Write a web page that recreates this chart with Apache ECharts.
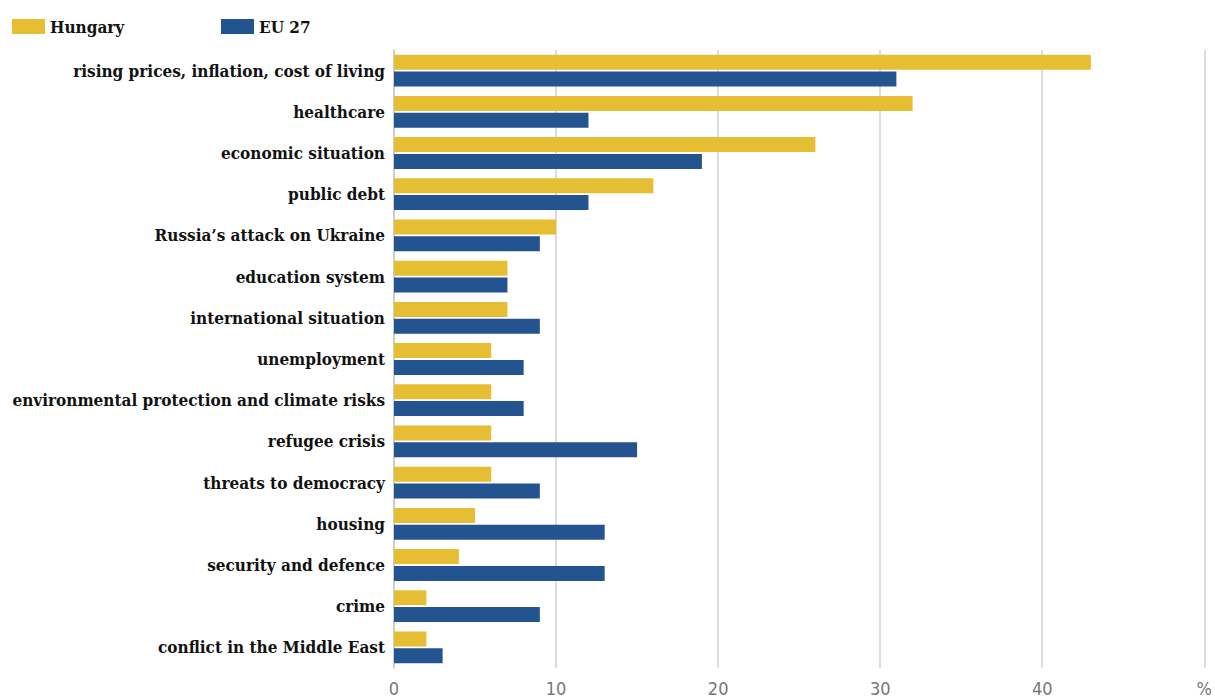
<!DOCTYPE html>
<html>
<head>
<meta charset="utf-8">
<script src="https://cdn.jsdelivr.net/npm/echarts@6/dist/echarts.min.js"></script>
<style>
  html, body { margin: 0; padding: 0; background: #fff; }
  #chart { width: 1215px; height: 697px; }
</style>
</head>
<body>
<div id="chart"></div>
<script>
var categories = [
  'rising prices, inflation, cost of living',
  'healthcare',
  'economic situation',
  'public debt',
  'Russia\u2019s attack on Ukraine',
  'education system',
  'international situation',
  'unemployment',
  'environmental protection and climate risks',
  'refugee crisis',
  'threats to democracy',
  'housing',
  'security and defence',
  'crime',
  'conflict in the Middle East'
];
var hungary = [43, 32, 26, 16, 10, 7, 7, 6, 6, 6, 6, 5, 4, 2, 2];
var eu27 = [31, 12, 19, 12, 9, 7, 9, 8, 8, 15, 9, 13, 13, 9, 3];

var yellow = '#E6BE33';
var blue = '#24548F';
var serif = 'DejaVu Serif Condensed, DejaVu Serif, serif';

var legendText = { fontFamily: serif, fontWeight: 'bold', fontSize: 17, color: '#111' };

var chart = echarts.init(document.getElementById('chart'), null, { renderer: 'svg' });
chart.setOption({
  animation: false,
  legend: [
    {
      left: 7, top: 13, itemWidth: 33, itemHeight: 15, icon: 'rect',
      textStyle: legendText, data: ['Hungary']
    },
    {
      left: 216, top: 13, itemWidth: 33, itemHeight: 15, icon: 'rect',
      textStyle: legendText, data: ['EU 27']
    }
  ],
  grid: { left: 394, right: 9, top: 50, bottom: 25, containLabel: false },
  xAxis: {
    type: 'value',
    min: 0,
    max: 50,
    interval: 10,
    axisLine: { show: false },
    axisTick: { show: false },
    axisLabel: {
      color: '#777',
      fontFamily: 'Liberation Sans Narrow, DejaVu Sans Condensed, sans-serif',
      fontSize: 18,
      margin: 11,
      formatter: function(v) { return v === 50 ? '%' : v; }
    },
    splitLine: { lineStyle: { color: '#d0d0d0', width: 1.5 } }
  },
  yAxis: {
    type: 'category',
    inverse: true,
    data: categories,
    axisLine: { show: true, lineStyle: { color: '#c8c8c8', width: 1.5 } },
    axisTick: { show: false },
    axisLabel: {
      color: '#111',
      fontFamily: serif,
      fontWeight: 'bold',
      fontSize: 17,
      margin: 9,
      padding: [2, 0, 0, 0]
    }
  },
  series: [
    {
      name: 'Hungary',
      type: 'bar',
      data: hungary,
      itemStyle: { color: yellow },
      barWidth: 15,
      barGap: '12%'
    },
    {
      name: 'EU 27',
      type: 'bar',
      data: eu27,
      itemStyle: { color: blue },
      barWidth: 15,
      barGap: '12%'
    }
  ]
});
</script>
</body>
</html>
